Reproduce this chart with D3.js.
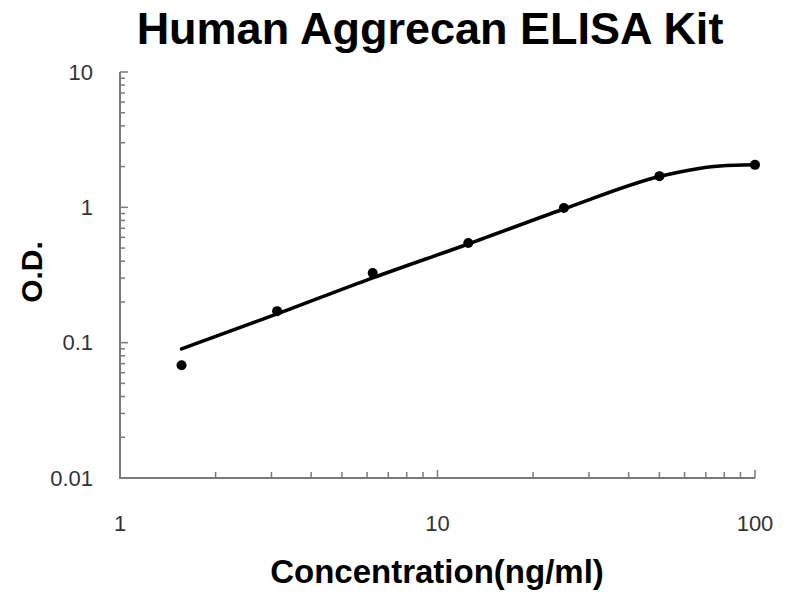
<!DOCTYPE html>
<html>
<head>
<meta charset="utf-8">
<script src="https://cdn.jsdelivr.net/npm/d3@7"></script>
<style>
  body { margin: 0; background: #fff; }
  svg { display: block; }
</style>
</head>
<body>
<div id="chart"></div>
<script>
// standard points
var concentrations = [1.5625, 3.125, 6.25, 12.5, 25, 50, 100];
var odValues = [0.068, 0.171, 0.327, 0.545, 0.99, 1.70, 2.06];

// fitted curve
var curveConc = [1.5625, 3.125, 6.25, 12.5, 25, 50, 62.5, 77.6, 100];
var curveOd = [0.090, 0.163, 0.301, 0.536, 0.972, 1.69, 1.89, 2.02, 2.06];

var xTicks = [1, 10, 100];
var yTicks = [0.01, 0.1, 1, 10];
var yTickLabels = ["0.01", "0.1", "1", "10"];

var width = 800, height = 600;

var svg = d3.select("#chart")
    .append("svg")
    .attr("width", width)
    .attr("height", height);

var x = d3.scaleLog().domain([1, 100]).range([120, 755]);
var y = d3.scaleLog().domain([0.01, 10]).range([478, 72]);

// minor ticks 2..9 in every decade
function minorTicks(lo, hi) {
    var out = [];
    for (var d = lo; d < hi; d *= 10) {
        for (var k = 2; k <= 9; k++) out.push(d * k);
    }
    return out;
}

var axisColor = "#7a7a7a";
var font = "Liberation Sans, Arial, sans-serif";

// y axis
var gy = svg.append("g").attr("transform", "translate(120,0)");
gy.append("line")
    .attr("y1", y(10)).attr("y2", y(0.01))
    .attr("stroke", axisColor).attr("stroke-width", 2);
gy.selectAll(".ymajor")
    .data(yTicks)
    .enter().append("line")
    .attr("class", "ymajor")
    .attr("x1", 0).attr("x2", 8)
    .attr("y1", function(d) { return y(d); })
    .attr("y2", function(d) { return y(d); })
    .attr("stroke", axisColor).attr("stroke-width", 1.5);
gy.selectAll(".yminor")
    .data(minorTicks(0.01, 10))
    .enter().append("line")
    .attr("class", "yminor")
    .attr("x1", 0).attr("x2", 5)
    .attr("y1", function(d) { return y(d); })
    .attr("y2", function(d) { return y(d); })
    .attr("stroke", axisColor).attr("stroke-width", 1.5);
gy.selectAll(".ylabel")
    .data(yTicks)
    .enter().append("text")
    .attr("x", -27)
    .attr("y", function(d) { return y(d); })
    .attr("dy", "0.35em")
    .attr("text-anchor", "end")
    .attr("font-family", font)
    .attr("font-size", 22)
    .attr("fill", "#333")
    .text(function(d, i) { return yTickLabels[i]; });

// x axis
var gx = svg.append("g").attr("transform", "translate(0,478)");
gx.append("line")
    .attr("x1", x(1) - 1).attr("x2", x(100))
    .attr("stroke", axisColor).attr("stroke-width", 2);
gx.selectAll(".xmajor")
    .data(xTicks.slice(1))
    .enter().append("line")
    .attr("x1", function(d) { return x(d); })
    .attr("x2", function(d) { return x(d); })
    .attr("y1", 0).attr("y2", -8)
    .attr("stroke", axisColor).attr("stroke-width", 1.5);
gx.selectAll(".xminor")
    .data(minorTicks(1, 100))
    .enter().append("line")
    .attr("x1", function(d) { return x(d); })
    .attr("x2", function(d) { return x(d); })
    .attr("y1", 0).attr("y2", -6)
    .attr("stroke", axisColor).attr("stroke-width", 1.5);
gx.selectAll(".xlabel")
    .data(xTicks)
    .enter().append("text")
    .attr("x", function(d) { return x(d); })
    .attr("y", 53)
    .attr("text-anchor", "middle")
    .attr("font-family", font)
    .attr("font-size", 22)
    .attr("fill", "#333")
    .text(function(d) { return d; });

// fitted curve
var line = d3.line()
    .x(function(d) { return x(d[0]); })
    .y(function(d) { return y(d[1]); })
    .curve(d3.curveMonotoneX);

svg.append("path")
    .datum(d3.zip(curveConc, curveOd))
    .attr("d", line)
    .attr("fill", "none")
    .attr("stroke", "#000")
    .attr("stroke-width", 3.5)
    .attr("stroke-linecap", "round");

// points
svg.selectAll(".dot")
    .data(d3.zip(concentrations, odValues))
    .enter().append("circle")
    .attr("class", "dot")
    .attr("cx", function(d) { return x(d[0]); })
    .attr("cy", function(d) { return y(d[1]); })
    .attr("r", 5)
    .attr("fill", "#000");

// titles
svg.append("text")
    .attr("x", 430).attr("y", 44)
    .attr("text-anchor", "middle")
    .attr("font-family", font)
    .attr("font-weight", "bold")
    .attr("font-size", 45)
    .text("Human Aggrecan ELISA Kit");

svg.append("text")
    .attr("x", 437).attr("y", 583)
    .attr("text-anchor", "middle")
    .attr("font-family", font)
    .attr("font-weight", "bold")
    .attr("font-size", 33)
    .text("Concentration(ng/ml)");

svg.append("text")
    .attr("transform", "translate(42,272) rotate(-90)")
    .attr("text-anchor", "middle")
    .attr("font-family", font)
    .attr("font-weight", "bold")
    .attr("font-size", 30)
    .text("O.D.");
</script>
</body>
</html>
